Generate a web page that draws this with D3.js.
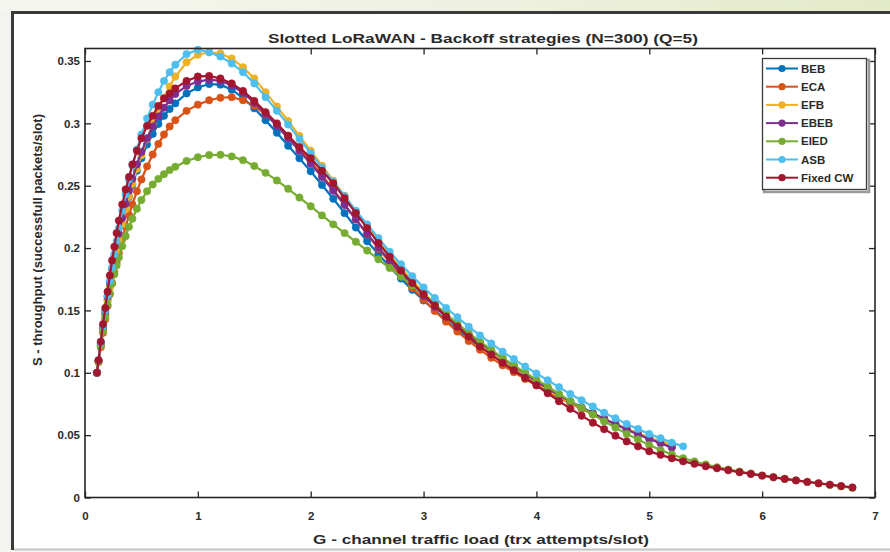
<!DOCTYPE html>
<html>
<head>
<meta charset="utf-8">
<script src="https://cdn.jsdelivr.net/npm/d3@7"></script>
<style>
  html, body { margin: 0; padding: 0; background: #f4f4f0; }
  svg { display: block; }
  text { font-family: "Liberation Sans", Arial, sans-serif; fill: #2a2a2a; }
</style>
</head>
<body>
<script>
// ---------- data ----------
const seriesNames = ["BEB", "ECA", "EFB", "EBEB", "EIED", "ASB", "Fixed CW"];
const seriesColors = ["#0072BD", "#D95319", "#EDB120", "#7E2F8E", "#77AC30", "#4DBEEE", "#A2142F"];

// channel traffic load G (trx attempts/slot), shared sampling positions
const loadG = [0.106, 0.12, 0.14, 0.16, 0.18, 0.20, 0.22, 0.24, 0.26, 0.28, 0.30, 0.33, 0.36, 0.39, 0.42, 0.46, 0.50, 0.55, 0.60, 0.65, 0.70, 0.75, 0.80,
  0.9, 1.0, 1.1, 1.2, 1.3, 1.4, 1.5, 1.6, 1.7, 1.8, 1.9, 2.0, 2.1, 2.2, 2.3, 2.4, 2.5, 2.6, 2.7, 2.8, 2.9, 3.0,
  3.1, 3.2, 3.3, 3.4, 3.5, 3.6, 3.7, 3.8, 3.9, 4.0, 4.1, 4.2, 4.3, 4.4, 4.5, 4.6, 4.7, 4.8, 4.9, 5.0, 5.1, 5.2,
  5.3, 5.4, 5.5, 5.6, 5.7, 5.8, 5.9, 6.0, 6.1, 6.2, 6.3, 6.4, 6.5, 6.6, 6.7, 6.8];

// throughput S (successful packets/slot)
const sBEB = [0.100, 0.1095, 0.1225, 0.135, 0.147, 0.1585, 0.169, 0.179, 0.189, 0.198, 0.2065, 0.219, 0.2305, 0.241, 0.2505, 0.262, 0.272, 0.283, 0.2915, 0.2995, 0.306, 0.3115, 0.316,
  0.324, 0.3288, 0.3315, 0.331, 0.327, 0.3205, 0.312, 0.3025, 0.2925, 0.282, 0.272, 0.2615, 0.2505, 0.2395, 0.228, 0.2165, 0.2055, 0.195, 0.185, 0.1755, 0.1665, 0.158,
  0.150, 0.142, 0.1345, 0.1275, 0.121, 0.115, 0.109, 0.1035, 0.0975, 0.092, 0.087, 0.082, 0.077, 0.0725, 0.0675, 0.0632, 0.059, 0.055, 0.051, 0.0475, 0.044, 0.0405];

const sECA = [0.100, 0.1085, 0.1205, 0.132, 0.143, 0.1535, 0.163, 0.172, 0.1805, 0.1885, 0.196, 0.207, 0.217, 0.2265, 0.235, 0.2455, 0.255, 0.2655, 0.275, 0.2835, 0.291, 0.2975, 0.3025,
  0.310, 0.315, 0.3185, 0.3205, 0.321, 0.3185, 0.314, 0.307, 0.299, 0.290, 0.280, 0.2695, 0.2585, 0.247, 0.235, 0.223, 0.211, 0.1995, 0.1885, 0.178, 0.168, 0.1585,
  0.1495, 0.141, 0.133, 0.1255, 0.1185, 0.112, 0.106, 0.1005, 0.095, 0.090, 0.085, 0.080, 0.0755, 0.071, 0.0668, 0.0627, 0.0588, 0.055, 0.051, 0.0475, 0.044, 0.041];

const sEFB = [0.100, 0.109, 0.122, 0.134, 0.146, 0.157, 0.168, 0.178, 0.188, 0.1975, 0.2065, 0.219, 0.231, 0.2415, 0.2515, 0.2635, 0.2745, 0.2875, 0.2995, 0.3105, 0.3205, 0.3295, 0.3375,
  0.349, 0.355, 0.357, 0.356, 0.352, 0.345, 0.336, 0.325, 0.3135, 0.302, 0.290, 0.278, 0.266, 0.254, 0.242, 0.2295, 0.2175, 0.2055, 0.1945, 0.184, 0.174, 0.1645,
  0.155, 0.1465, 0.138, 0.130, 0.1225, 0.1155, 0.109, 0.103, 0.097, 0.0915, 0.086, 0.081, 0.076, 0.0715, 0.067, 0.063, 0.059, 0.055, 0.0515, 0.048, 0.045, 0.042];

const sEBEB = [0.100, 0.1098, 0.1235, 0.1365, 0.149, 0.161, 0.1725, 0.183, 0.193, 0.2025, 0.2115, 0.224, 0.2355, 0.246, 0.2555, 0.267, 0.277, 0.288, 0.2975, 0.3055, 0.3125, 0.3185, 0.3235,
  0.330, 0.3335, 0.335, 0.334, 0.3305, 0.3245, 0.3165, 0.3075, 0.298, 0.288, 0.278, 0.2675, 0.257, 0.246, 0.2345, 0.223, 0.2115, 0.2005, 0.190, 0.180, 0.1705, 0.1615,
  0.153, 0.145, 0.1375, 0.1305, 0.124, 0.1175, 0.1115, 0.1055, 0.0995, 0.093, 0.0875, 0.082, 0.077, 0.072, 0.0675, 0.063, 0.0587, 0.0545, 0.0505, 0.047, 0.0435, 0.040];

const sEIED = [0.100, 0.109, 0.1215, 0.1335, 0.1445, 0.1545, 0.1635, 0.1715, 0.179, 0.186, 0.1925, 0.2015, 0.2095, 0.217, 0.2235, 0.2315, 0.2385, 0.2455, 0.251, 0.2555, 0.2592, 0.2625, 0.2652,
  0.2698, 0.2728, 0.2746, 0.2748, 0.2735, 0.2705, 0.2658, 0.2603, 0.2542, 0.2475, 0.2405, 0.2335, 0.2262, 0.219, 0.212, 0.205, 0.198, 0.191, 0.184, 0.177, 0.170, 0.163,
  0.155, 0.147, 0.1395, 0.132, 0.125, 0.1185, 0.112, 0.106, 0.100, 0.0945, 0.089, 0.083, 0.0775, 0.072, 0.0665, 0.061, 0.056, 0.051, 0.0465, 0.042, 0.038, 0.0345,
  0.0315, 0.029, 0.0265, 0.0243, 0.0225, 0.0208, 0.0192, 0.0177, 0.0163, 0.015, 0.0137, 0.0125, 0.0113, 0.0101, 0.0089, 0.0077];

const sASB = [0.100, 0.110, 0.124, 0.1375, 0.150, 0.162, 0.1735, 0.1845, 0.195, 0.2055, 0.216, 0.230, 0.243, 0.255, 0.266, 0.279, 0.291, 0.304, 0.315, 0.325, 0.334, 0.341, 0.347,
  0.3555, 0.359, 0.357, 0.3535, 0.348, 0.341, 0.332, 0.321, 0.310, 0.299, 0.2875, 0.276, 0.2645, 0.253, 0.2415, 0.230, 0.219, 0.208, 0.197, 0.187, 0.1775, 0.1685,
  0.160, 0.152, 0.1445, 0.137, 0.130, 0.1235, 0.117, 0.111, 0.105, 0.0995, 0.094, 0.0885, 0.083, 0.078, 0.073, 0.068, 0.0635, 0.059, 0.055, 0.051, 0.0475, 0.044,
  0.041];

const sFixedCW = [0.100, 0.110, 0.125, 0.139, 0.152, 0.165, 0.178, 0.190, 0.201, 0.212, 0.222, 0.235, 0.247, 0.257, 0.267, 0.278, 0.288, 0.298, 0.306, 0.314, 0.320, 0.324, 0.328,
  0.334, 0.3375, 0.338, 0.336, 0.332, 0.326, 0.318, 0.309, 0.300, 0.290, 0.281, 0.272, 0.262, 0.252, 0.240, 0.228, 0.216, 0.204, 0.193, 0.182, 0.172, 0.163,
  0.154, 0.145, 0.137, 0.129, 0.121, 0.1146, 0.108, 0.102, 0.096, 0.090, 0.0836, 0.0772, 0.0712, 0.0656, 0.060, 0.0548, 0.0496, 0.045, 0.041, 0.037, 0.0342, 0.0314,
  0.029, 0.027, 0.025, 0.0234, 0.0218, 0.0203, 0.0189, 0.0175, 0.0162, 0.0149, 0.0137, 0.0125, 0.0114, 0.0103, 0.0092, 0.0081];

const seriesValues = [sBEB, sECA, sEFB, sEBEB, sEIED, sASB, sFixedCW];

const xTickValues = [0, 1, 2, 3, 4, 5, 6, 7];
const xTickLabels = ["0", "1", "2", "3", "4", "5", "6", "7"];
const yTickValues = [0, 0.05, 0.1, 0.15, 0.2, 0.25, 0.3, 0.35];
const yTickLabels = ["0", "0.05", "0.1", "0.15", "0.2", "0.25", "0.3", "0.35"];

const titleText = "Slotted LoRaWAN - Backoff strategies (N=300) (Q=5)";
const xLabelText = "G - channel traffic load (trx attempts/slot)";
const yLabelText = "S - throughput (successfull packets/slot)";

// ---------- drawing ----------
const W = 890, H = 552;
const plot = { left: 85, right: 875, top: 48.5, bottom: 497.5 };

const svg = d3.select("body").append("svg").attr("width", W).attr("height", H);
const defs = svg.append("defs");
const grad = defs.append("linearGradient").attr("id", "band").attr("x1", "0").attr("x2", "1").attr("y1", "0").attr("y2", "0");
grad.append("stop").attr("offset", "0%").attr("stop-color", "#f6f6f1");
grad.append("stop").attr("offset", "55%").attr("stop-color", "#eef1e0");
grad.append("stop").attr("offset", "100%").attr("stop-color", "#e3eac8");
const blur = defs.append("filter").attr("id", "soft").attr("x", "-5%").attr("y", "-5%").attr("width", "110%").attr("height", "110%");
blur.append("feGaussianBlur").attr("stdDeviation", 0.6);
defs.append("clipPath").attr("id", "plotclip").append("rect")
  .attr("x", plot.left).attr("y", plot.top - 4).attr("width", plot.right - plot.left + 4).attr("height", plot.bottom - plot.top + 8);

// page background and frame
svg.append("rect").attr("x", 0).attr("y", 0).attr("width", W).attr("height", H).attr("fill", "#f3f3ef");
svg.append("rect").attr("x", 0).attr("y", 0).attr("width", W).attr("height", 12).attr("fill", "url(#band)");
svg.append("rect").attr("x", 12).attr("y", 12).attr("width", W - 12).attr("height", 537).attr("fill", "#ffffff");
svg.append("line").attr("x1", 12.5).attr("x2", 12.5).attr("y1", 11).attr("y2", 550).attr("stroke", "#3a3a3a").attr("stroke-width", 3);
svg.append("line").attr("x1", 11).attr("x2", W).attr("y1", 12.5).attr("y2", 12.5).attr("stroke", "#3a3a3a").attr("stroke-width", 3);
svg.append("line").attr("x1", 14).attr("x2", W).attr("y1", 549.5).attr("y2", 549.5).attr("stroke", "#c4c4c4").attr("stroke-width", 2);

const x = d3.scaleLinear().domain([0, 7]).range([plot.left, plot.right]);
const y = d3.scaleLinear().domain([0, 0.36]).range([plot.bottom, plot.top]);

// axes (MATLAB-style inward ticks on all four sides)
const axisColor = "#262626";
function styleAxis(g) {
  g.select(".domain").remove();
  g.selectAll(".tick line").attr("stroke", axisColor).attr("stroke-width", 1.3);
  g.selectAll(".tick text").attr("fill", "#2a2a2a").style("font-size", "11.5px").style("font-weight", "bold");
}
svg.append("g").attr("transform", `translate(0,${plot.bottom})`)
  .call(d3.axisBottom(x).tickValues(xTickValues).tickFormat((d, i) => xTickLabels[i]).tickSizeInner(-6).tickSizeOuter(0).tickPadding(14))
  .call(styleAxis);
svg.append("g").attr("transform", `translate(0,${plot.top})`)
  .call(d3.axisTop(x).tickValues(xTickValues).tickFormat("").tickSizeInner(-6).tickSizeOuter(0))
  .call(styleAxis);
svg.append("g").attr("transform", `translate(${plot.left},0)`)
  .call(d3.axisLeft(y).tickValues(yTickValues).tickFormat((d, i) => yTickLabels[i]).tickSizeInner(-6).tickSizeOuter(0).tickPadding(5))
  .call(styleAxis);
svg.append("g").attr("transform", `translate(${plot.right},0)`)
  .call(d3.axisRight(y).tickValues(yTickValues).tickFormat("").tickSizeInner(-6).tickSizeOuter(0))
  .call(styleAxis);

// series
const line = d3.line().x(d => x(d[0])).y(d => y(d[1]));
const gSeries = svg.append("g").attr("clip-path", "url(#plotclip)").append("g").attr("filter", "url(#soft)");
seriesValues.forEach((vals, si) => {
  const pts = vals.map((v, i) => [loadG[i], v]);
  const g = gSeries.append("g").attr("class", "series");
  g.append("path").attr("d", line(pts)).attr("fill", "none").attr("stroke", seriesColors[si]).attr("stroke-width", 2.2);
  g.selectAll("circle").data(pts).join("circle")
    .attr("cx", d => x(d[0])).attr("cy", d => y(d[1])).attr("r", 3.7)
    .attr("fill", seriesColors[si]).attr("stroke", seriesColors[si]).attr("stroke-width", 0.5);
});

// plot box
svg.append("rect").attr("x", plot.left).attr("y", plot.top).attr("width", plot.right - plot.left).attr("height", plot.bottom - plot.top)
  .attr("fill", "none").attr("stroke", axisColor).attr("stroke-width", 1.6);

// title and labels
svg.append("text").attr("x", 483).attr("y", 43).attr("text-anchor", "middle")
  .attr("textLength", 430).attr("lengthAdjust", "spacingAndGlyphs")
  .style("font-size", "13.5px").style("font-weight", "bold").text(titleText);
svg.append("text").attr("x", 481).attr("y", 544).attr("text-anchor", "middle")
  .attr("textLength", 336).attr("lengthAdjust", "spacingAndGlyphs")
  .style("font-size", "13.5px").style("font-weight", "bold").text(xLabelText);
svg.append("text").attr("transform", `translate(42,240) rotate(-90)`).attr("text-anchor", "middle")
  .attr("textLength", 252).attr("lengthAdjust", "spacingAndGlyphs")
  .style("font-size", "13px").style("font-weight", "bold").text(yLabelText);

// legend
const lg = svg.append("g");
lg.append("rect").attr("x", 764).attr("y", 60).attr("width", 105).attr("height", 132).attr("fill", "none").attr("stroke", "#9a9a9a").attr("stroke-width", 2.5);
lg.append("rect").attr("x", 762.5).attr("y", 58.5).attr("width", 104).attr("height", 131).attr("fill", "#ffffff").attr("stroke", "#3a3a3a").attr("stroke-width", 1.3);
seriesNames.forEach((name, i) => {
  const yy = 68.5 + i * 18.2;
  const e = lg.append("g").attr("filter", "url(#soft)");
  e.append("line").attr("x1", 766).attr("x2", 798).attr("y1", yy).attr("y2", yy).attr("stroke", seriesColors[i]).attr("stroke-width", 2);
  e.append("circle").attr("cx", 782).attr("cy", yy).attr("r", 3.6).attr("fill", seriesColors[i]);
  lg.append("text").attr("x", 801).attr("y", yy + 4).style("font-size", "11.5px").style("font-weight", "bold").text(name);
});
</script>
</body>
</html>
